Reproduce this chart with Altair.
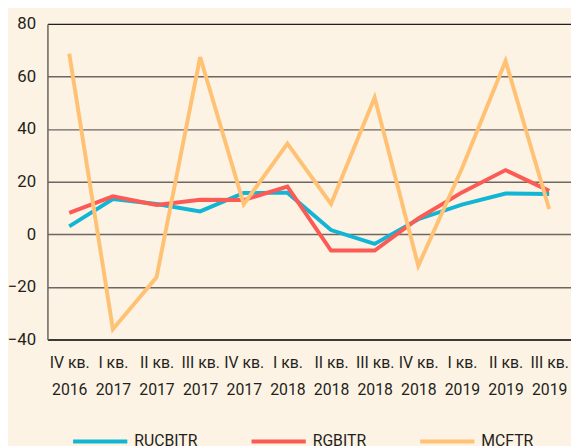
import altair as alt
import pandas as pd

quarters = ["IV кв.\n2016", "I кв.\n2017", "II кв.\n2017", "III кв.\n2017",
            "IV кв.\n2017", "I кв.\n2018", "II кв.\n2018", "III кв.\n2018",
            "IV кв.\n2018", "I кв.\n2019", "II кв.\n2019", "III кв.\n2019"]
rucbitr = [3.0, 13.4, 11.5, 8.7, 15.7, 15.8, 1.6, -3.7, 5.7, 11.3, 15.5, 15.3]
rgbitr = [8.1, 14.4, 11.1, 13.1, 13.0, 18.1, -6.2, -6.2, 6.0, 15.9, 24.4, 16.5]
mcftr = [68.7, -36.1, -16.4, 67.4, 11.4, 34.5, 11.5, 52.0, -12.0, 25.0, 65.9, 9.6]
series = ["RUCBITR", "RGBITR", "MCFTR"]
colors = ["#13b5d4", "#fc5a55", "#ffc275"]
y_ticks = [-40, -20, 0, 20, 40, 60, 80]

rows = []
for name, vals in zip(series, [rucbitr, rgbitr, mcftr]):
    for q, v in zip(quarters, vals):
        rows.append({"quarter": q, "value": v, "series": name})
df = pd.DataFrame(rows)

text_color = "#231f20"

chart = alt.Chart(df).mark_line(strokeWidth=4, strokeJoin="miter").encode(
    x=alt.X("quarter:N", sort=quarters,
            scale=alt.Scale(padding=0.5),
            axis=alt.Axis(title=None, labelAngle=0,
                          labelExpr="split(datum.label, '\\n')",
                          labelLineHeight=27, labelPadding=16,
                          labelBaseline="top", labelFontSize=16,
                          ticks=False, grid=False,
                          domainColor=text_color, domainWidth=1.5)),
    y=alt.Y("value:Q",
            scale=alt.Scale(domain=[-40, 80], nice=False),
            axis=alt.Axis(title=None, values=y_ticks, ticks=False,
                          labelFontSize=17, labelPadding=12,
                          domainColor="#6d6662", domainWidth=1.5,
                          gridColor=alt.condition("datum.value == 80", alt.value(text_color), alt.value("#6d6662")),
                          gridWidth=1.5)),
    color=alt.Color("series:N", sort=series,
                    scale=alt.Scale(domain=series, range=colors),
                    legend=alt.Legend(orient="none", legendX=24, legendY=394,
                                      direction="horizontal", title=None,
                                      symbolType="stroke", symbolSize=3025,
                                      symbolStrokeWidth=4, labelFontSize=16,
                                      labelOffset=5, columnPadding=46,
                                      gridAlign="none", columns=3)),
).properties(
    width=531, height=320, autosize="none",
    padding={"left": 40, "top": 13, "right": 0, "bottom": 105},
    background="#fdf3e4",
).configure_view(stroke=None).configure(
    font="Roboto"
).configure_axis(
    labelColor=text_color, labelFont="Roboto"
).configure_legend(
    labelColor=text_color, labelFont="Roboto"
)

chart.save("out.html", embed_options={"renderer": "svg", "actions": False})
